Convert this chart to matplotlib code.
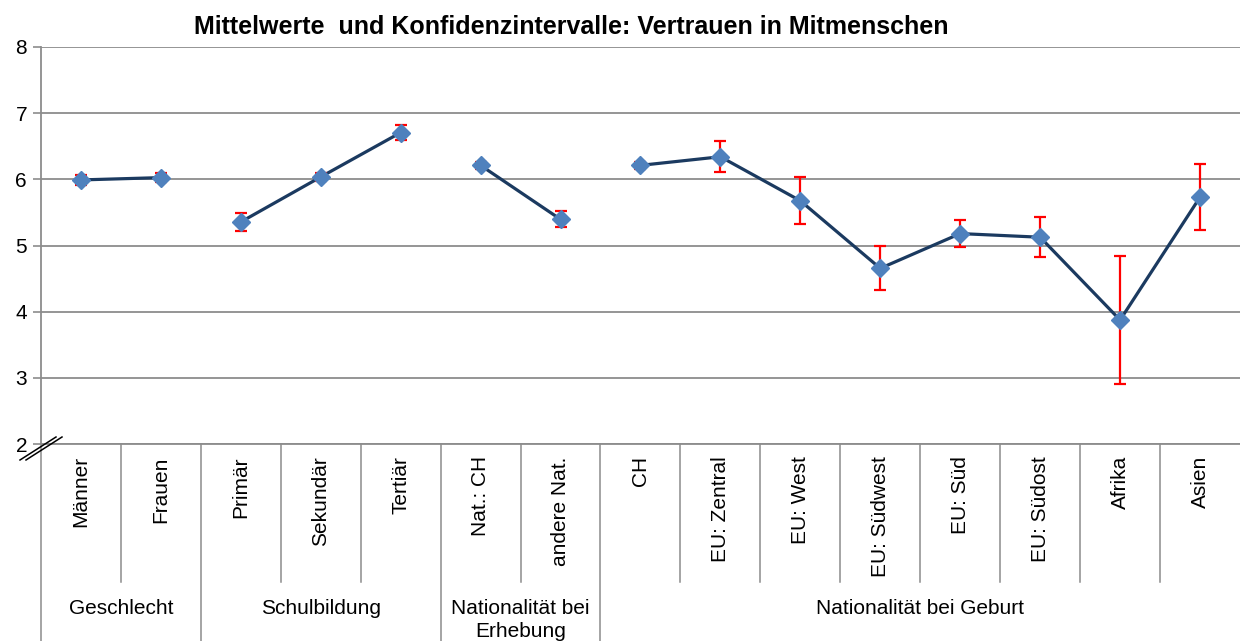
import matplotlib.pyplot as plt

plt.rcParams['font.family'] = ['Liberation Sans', 'DejaVu Sans']

# data
categories = ['Männer', 'Frauen', 'Primär', 'Sekundär', 'Tertiär', 'Nat.: CH', 'andere Nat.',
              'CH', 'EU: Zentral', 'EU: West', 'EU: Südwest', 'EU: Süd', 'EU: Südost', 'Afrika', 'Asien']
means = [5.99, 6.025, 5.355, 6.035, 6.705, 6.21, 5.395,
         6.21, 6.34, 5.675, 4.655, 5.18, 5.125, 3.875, 5.73]
errors = [0.07, 0.07, 0.13, 0.06, 0.11, 0.05, 0.12,
          0.05, 0.235, 0.355, 0.33, 0.2, 0.3, 0.96, 0.5]
groups = ['Geschlecht', 'Schulbildung', 'Nationalität bei\nErhebung', 'Nationalität bei Geburt']
group_sizes = [2, 3, 2, 8]

grid_col = '#8c8c8c'

fig = plt.figure(figsize=(12.4, 6.41), dpi=100)
ax = fig.add_axes([0.033, 0.307, 0.967, 0.620])

x = list(range(1, len(categories) + 1))

# lines per group
start = 0
for n in group_sizes:
    xs = x[start:start + n]
    ys = means[start:start + n]
    ax.plot(xs, ys, color='#1b3a60', lw=2.3, zorder=3)
    start += n

ax.errorbar(x, means, yerr=errors, fmt='none', ecolor='red', elinewidth=1.6,
            capsize=4.5, capthick=1.6, zorder=4)
ax.plot(x, means, ls='none', marker='D', ms=9, color='#4f81bd', zorder=5)

ax.set_xlim(0.5, len(categories) + 0.5)
ax.set_ylim(2, 8)
ax.set_yticks(range(2, 9))
ax.tick_params(axis='y', labelsize=15, length=6, color=grid_col, width=1.2, pad=4)
ax.set_xticks([])
ax.grid(axis='y', color=grid_col, lw=1.3)
ax.set_axisbelow(True)
for s in ['top', 'right']:
    ax.spines[s].set_visible(False)
for s in ['left', 'bottom']:
    ax.spines[s].set_color(grid_col)
    ax.spines[s].set_linewidth(1.3)

# category labels and separators below the axis
tr = ax.get_xaxis_transform()
for xi, lab in zip(x, categories):
    ax.text(xi, -0.03, lab, rotation=90, ha='center', va='top', fontsize=15,
            transform=tr, clip_on=False)

bounds = [0.5]
acc = 0.5
for n in group_sizes:
    acc += n
    bounds.append(acc)

for b in range(1, len(categories)):
    xb = b + 0.5
    if xb in bounds:
        continue
    ax.plot([xb, xb], [0, -0.347], color=grid_col, lw=1.1, transform=tr, clip_on=False)
for xb in bounds[:-1]:
    ax.plot([xb, xb], [0, -0.5], color=grid_col, lw=1.1, transform=tr, clip_on=False)

for i, g in enumerate(groups):
    xc = (bounds[i] + bounds[i + 1]) / 2
    ax.text(xc, -0.39, g, ha='center', va='top', fontsize=15, transform=tr,
            clip_on=False, linespacing=1.25)

# axis break mark
for dx in [0, 6]:
    fig.add_artist(plt.Line2D([(20 + dx) / 1240, (56 + dx) / 1240],
                              [1 - 460 / 641, 1 - 437 / 641],
                              color='black', lw=1.1))

fig.text(0.461, 0.958, 'Mittelwerte  und Konfidenzintervalle: Vertrauen in Mitmenschen',
         ha='center', va='center', fontsize=18, fontweight='bold')

fig.savefig('out.png', dpi=100)
